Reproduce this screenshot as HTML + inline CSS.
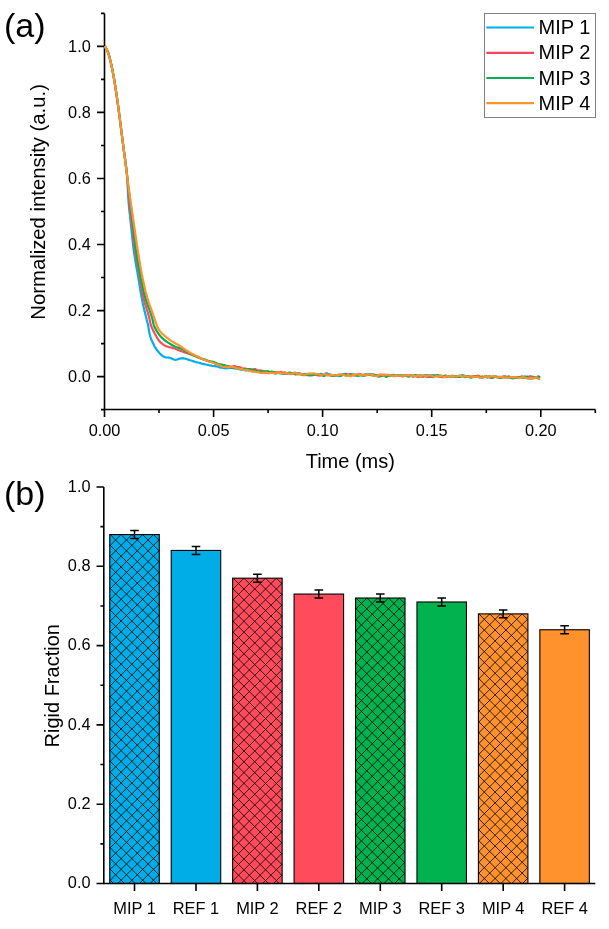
<!DOCTYPE html>
<html><head><meta charset="utf-8"><style>
html,body{margin:0;padding:0;background:#fff;width:609px;height:929px;overflow:hidden}
svg{display:block;will-change:transform}
text{font-family:"Liberation Sans",sans-serif;fill:#000}
</style></head><body>
<svg width="609" height="929" viewBox="0 0 609 929">
<g stroke="#000" stroke-width="1.6" fill="none">
<path d="M104.5,13.4 V409.5 H595.3"/>
<path d="M97,376.6H104.5 M97,310.6H104.5 M97,244.5H104.5 M97,178.5H104.5 M97,112.4H104.5 M97,46.4H104.5 M101,409.6H104.5 M101,343.6H104.5 M101,277.5H104.5 M101,211.5H104.5 M101,145.5H104.5 M101,79.4H104.5 M101,13.4H104.5 M104.5,409.5V417 M213.6,409.5V417 M322.6,409.5V417 M431.7,409.5V417 M540.8,409.5V417 M159.0,409.5V413 M268.1,409.5V413 M377.2,409.5V413 M486.3,409.5V413 M595.3,409.5V413"/>
</g>
<polyline points="104.6,46.3 105.2,47.1 105.7,47.8 106.2,48.7 106.7,49.5 107.1,50.4 107.5,51.2 107.9,52.1 108.2,53.0 108.5,53.9 108.8,54.8 109.1,55.8 109.3,56.7 109.6,57.6 109.8,58.5 110.1,59.5 110.3,60.4 110.5,61.3 110.7,62.2 110.9,63.2 111.2,64.1 111.4,65.0 111.6,66.0 111.8,66.9 112.0,67.9 112.2,68.8 112.3,69.7 112.5,70.7 112.7,71.6 112.9,72.5 113.1,73.5 113.2,74.4 113.4,75.4 113.6,76.3 113.8,77.3 113.9,78.2 114.1,79.1 114.2,80.1 114.4,81.0 114.6,82.0 114.7,82.9 114.9,83.9 115.0,84.8 115.2,85.7 115.3,86.7 115.5,87.6 115.6,88.6 115.8,89.5 115.9,90.5 116.1,91.4 116.2,92.4 116.3,93.3 116.5,94.3 116.6,95.2 116.8,96.2 116.9,97.1 117.0,98.0 117.2,99.0 117.3,99.9 117.4,100.9 117.6,101.8 117.7,102.8 117.8,103.7 118.0,104.7 118.1,105.6 118.2,106.6 118.3,107.5 118.5,108.5 118.6,109.4 118.7,110.4 118.8,111.3 119.0,112.3 119.1,113.2 119.2,114.2 119.3,115.1 119.5,116.1 119.6,117.0 119.7,118.0 119.8,118.9 120.0,119.9 120.1,120.8 120.2,121.8 120.3,122.7 120.4,123.7 120.6,124.6 120.7,125.6 120.8,126.5 120.9,127.5 121.0,128.4 121.1,129.4 121.3,130.3 121.4,131.3 121.5,132.2 121.6,133.2 121.7,134.1 121.8,135.1 122.0,136.0 122.1,136.9 122.2,137.9 122.3,138.8 122.4,139.8 122.6,140.7 122.7,141.7 122.8,142.6 122.9,143.6 123.1,144.5 123.2,145.5 123.3,146.4 123.4,147.4 123.6,148.3 123.7,149.3 123.8,150.2 124.0,151.2 124.1,152.1 124.2,153.1 124.4,154.0 124.5,155.0 124.6,155.9 124.8,156.9 124.9,157.8 125.1,158.8 125.2,159.7 125.3,160.7 125.4,161.6 125.6,162.6 125.7,163.5 125.8,164.5 126.0,165.4 126.1,166.4 126.2,167.3 126.3,168.3 126.4,169.2 126.5,170.2 126.6,171.1 126.7,172.1 126.8,173.0 126.9,174.0 127.0,174.9 127.1,175.9 127.1,176.8 127.2,177.8 127.3,178.7 127.3,179.7 127.4,180.6 127.5,181.6 127.5,182.5 127.6,183.5 127.6,184.5 127.6,185.4 127.7,186.4 127.7,187.3 127.8,188.3 127.8,189.2 127.9,190.2 127.9,191.1 127.9,192.1 128.0,193.1 128.0,194.0 128.1,195.0 128.1,195.9 128.2,196.9 128.3,197.8 128.3,198.8 128.4,199.7 128.5,200.7 128.5,201.7 128.6,202.6 128.7,203.6 128.8,204.5 128.9,205.5 128.9,206.4 129.0,207.4 129.1,208.3 129.2,209.3 129.3,210.2 129.4,211.2 129.5,212.1 129.7,213.1 129.8,214.0 129.9,215.0 130.0,215.9 130.1,216.9 130.2,217.8 130.3,218.8 130.4,219.7 130.5,220.7 130.6,221.6 130.7,222.6 130.8,223.5 130.9,224.5 131.0,225.4 131.1,226.4 131.2,227.3 131.3,228.3 131.4,229.3 131.5,230.2 131.6,231.2 131.7,232.1 131.8,233.1 131.9,234.0 132.0,235.0 132.1,235.9 132.2,236.9 132.3,237.8 132.4,238.8 132.5,239.7 132.6,240.7 132.7,241.6 132.8,242.6 132.9,243.5 133.0,244.5 133.1,245.4 133.2,246.4 133.4,247.3 133.5,248.3 133.6,249.2 133.7,250.2 133.9,251.1 134.0,252.1 134.1,253.0 134.3,254.0 134.4,254.9 134.6,255.9 134.7,256.8 134.9,257.7 135.0,258.7 135.2,259.6 135.3,260.6 135.5,261.5 135.6,262.5 135.8,263.4 136.0,264.3 136.1,265.3 136.3,266.2 136.5,267.2 136.6,268.1 136.8,269.1 137.0,270.0 137.1,270.9 137.3,271.9 137.5,272.8 137.6,273.8 137.8,274.7 138.0,275.7 138.1,276.6 138.3,277.5 138.4,278.5 138.6,279.4 138.8,280.4 138.9,281.3 139.1,282.3 139.2,283.2 139.4,284.2 139.5,285.1 139.7,286.1 139.8,287.0 140.0,287.9 140.1,288.9 140.3,289.8 140.4,290.8 140.6,291.7 140.8,292.7 140.9,293.6 141.1,294.5 141.3,295.5 141.4,296.4 141.6,297.4 141.8,298.3 142.0,299.3 142.1,300.2 142.3,301.1 142.5,302.1 142.7,303.0 142.9,303.9 143.1,304.9 143.3,305.8 143.5,306.7 143.8,307.7 144.0,308.6 144.2,309.5 144.4,310.5 144.6,311.4 144.9,312.3 145.1,313.3 145.3,314.2 145.6,315.1 145.8,316.0 146.0,317.0 146.3,317.9 146.5,318.8 146.7,319.7 147.0,320.7 147.2,321.6 147.4,322.5 147.7,323.5 147.9,324.4 148.1,325.3 148.3,326.3 148.4,327.2 148.6,328.2 148.8,329.1 148.9,330.0 149.1,331.0 149.3,331.9 149.4,332.9 149.6,333.8 149.8,334.7 150.1,335.7 150.3,336.6 150.6,337.5 150.9,338.4 151.2,339.3 151.6,340.2 152.0,341.1 152.4,341.9 152.8,342.8 153.2,343.7 153.7,344.5 154.1,345.4 154.5,346.2 155.0,347.1 155.5,347.9 156.0,348.7 156.5,349.5 157.1,350.2 157.7,351.0 158.3,351.7 159.0,352.4 159.6,353.1 160.3,353.9 161.0,354.6 161.7,355.3 162.5,355.9 163.3,356.4 164.1,356.9 165.0,357.2 165.9,357.4 166.8,357.5 167.8,357.5 168.8,357.6 169.7,357.8 170.6,358.1 171.6,358.5 172.5,358.9 173.4,359.3 174.3,359.6 175.1,359.8 176.0,359.8 177.0,359.5 177.9,359.2 178.8,358.9 179.7,358.6 180.7,358.4 181.6,358.3 182.6,358.2 183.5,358.3 184.4,358.5 185.4,358.7 186.3,359.0 187.3,359.3 188.2,359.6 189.2,359.9 190.0,360.2 191.0,360.5 192.0,360.8 193.0,361.1 194.0,361.4 195.0,361.8 196.0,362.1 197.0,362.3 198.0,362.5 199.0,362.8 200.0,363.1 201.0,363.4 202.0,363.7 203.0,363.9 204.0,364.1 205.0,364.4 206.0,364.5 207.0,364.7 208.0,365.0 209.0,365.2 210.0,365.3 211.0,365.5 212.0,365.8 213.0,366.0 214.0,366.0 215.0,366.1 216.0,366.3 217.0,366.4 218.0,366.7 219.0,367.1 220.0,367.6 221.0,367.6 222.0,367.6 223.0,367.8 224.0,368.1 225.0,368.2 226.0,368.3 227.0,368.2 228.0,368.2 229.0,368.1 230.0,367.9 231.0,367.9 232.0,368.0 233.0,368.2 234.0,368.4 235.0,368.5 236.0,368.6 237.0,368.7 238.0,368.8 239.0,369.0 240.0,369.4 241.0,369.4 242.0,369.4 243.0,369.5 244.0,369.9 245.0,370.3 246.0,370.2 247.0,370.3 248.0,370.2 249.0,370.3 250.0,370.5 251.0,370.9 252.0,371.3 253.0,371.3 254.0,371.3 255.0,371.2 256.0,371.2 257.0,371.2 258.0,371.3 259.0,371.3 260.0,371.4 261.0,371.4 262.0,371.2 263.0,371.1 264.0,371.5 265.0,372.1 266.0,372.5 267.0,372.9 268.0,372.8 269.0,372.5 270.0,372.6 271.0,372.5 272.0,372.4 273.0,372.8 274.0,373.2 275.0,373.6 276.0,373.5 277.0,373.0 278.0,372.9 279.0,373.2 280.0,373.3 281.0,373.2 282.0,373.5 283.0,373.9 284.0,373.9 285.0,373.5 286.0,373.3 287.0,373.3 288.0,373.1 289.0,373.4 290.0,374.0 291.0,374.1 292.0,373.9 293.0,373.9 294.0,373.9 295.0,373.5 296.0,373.4 297.0,373.9 298.0,374.0 299.0,373.9 300.0,374.1 301.0,374.1 302.0,374.3 303.0,374.6 304.0,374.2 305.0,373.8 306.0,373.9 307.0,374.3 308.0,374.6 309.0,375.0 310.0,375.3 311.0,375.3 312.0,375.3 313.0,375.0 314.0,374.2 315.0,374.0 316.0,373.9 317.0,374.2 318.0,374.2 319.0,374.3 320.0,374.2 321.0,373.8 322.0,374.0 323.0,374.4 324.0,374.4 325.0,373.9 326.0,373.3 327.0,373.4 328.0,374.2 329.0,374.5 330.0,374.4 331.0,374.8 332.0,375.4 333.0,375.6 334.0,375.9 335.0,375.9 336.0,375.5 337.0,375.5 338.0,376.0 339.0,376.1 340.0,376.0 341.0,375.6 342.0,375.2 343.0,374.5 344.0,373.9 345.0,374.0 346.0,373.9 347.0,374.0 348.0,374.4 349.0,374.8 350.0,374.7 351.0,374.7 352.0,374.6 353.0,374.8 354.0,374.3 355.0,374.7 356.0,375.5 357.0,375.6 358.0,375.2 359.0,374.9 360.0,374.7 361.0,374.3 362.0,374.7 363.0,375.2 364.0,374.9 365.0,374.3 366.0,374.6 367.0,374.6 368.0,374.3 369.0,374.2 370.0,374.1 371.0,374.3 372.0,374.6 373.0,374.3 374.0,374.5 375.0,375.1 376.0,375.6 377.0,375.6 378.0,375.4 379.0,375.2 380.0,375.4 381.0,375.6 382.0,375.4 383.0,375.6 384.0,375.8 385.0,376.0 386.0,376.2 387.0,376.0 388.0,375.5 389.0,375.8 390.0,375.5 391.0,375.2 392.0,375.6 393.0,376.1 394.0,376.2 395.0,375.9 396.0,376.0 397.0,375.7 398.0,375.5 399.0,375.3 400.0,375.5 401.0,375.8 402.0,376.1 403.0,376.1 404.0,375.9 405.0,375.7 406.0,375.7 407.0,375.5 408.0,375.1 409.0,375.0 410.0,375.4 411.0,375.6 412.0,376.0 413.0,376.4 414.0,376.4 415.0,375.9 416.0,375.9 417.0,375.9 418.0,376.1 419.0,376.0 420.0,376.1 421.0,376.3 422.0,376.4 423.0,376.1 424.0,375.2 425.0,375.0 426.0,375.0 427.0,375.2 428.0,375.5 429.0,375.4 430.0,375.3 431.0,375.4 432.0,375.1 433.0,375.0 434.0,375.1 435.0,375.7 436.0,375.9 437.0,376.1 438.0,376.4 439.0,376.6 440.0,376.5 441.0,376.9 442.0,377.2 443.0,376.6 444.0,375.8 445.0,375.7 446.0,376.3 447.0,376.5 448.0,376.0 449.0,376.0 450.0,376.3 451.0,376.2 452.0,375.7 453.0,375.9 454.0,376.0 455.0,376.1 456.0,376.6 457.0,376.8 458.0,376.1 459.0,375.7 460.0,375.8 461.0,375.5 462.0,375.3 463.0,375.3 464.0,375.6 465.0,376.1 466.0,376.2 467.0,376.3 468.0,376.4 469.0,376.4 470.0,376.8 471.0,377.3 472.0,377.1 473.0,376.7 474.0,376.8 475.0,376.9 476.0,376.8 477.0,376.6 478.0,376.6 479.0,376.9 480.0,377.6 481.0,377.7 482.0,377.6 483.0,377.4 484.0,377.3 485.0,376.8 486.0,376.9 487.0,377.6 488.0,377.5 489.0,376.7 490.0,376.3 491.0,377.2 492.0,377.7 493.0,377.5 494.0,377.4 495.0,377.0 496.0,377.0 497.0,377.2 498.0,377.5 499.0,377.7 500.0,377.9 501.0,377.5 502.0,377.2 503.0,377.5 504.0,377.6 505.0,377.5 506.0,377.5 507.0,377.4 508.0,376.8 509.0,376.3 510.0,377.1 511.0,377.2 512.0,377.1 513.0,377.1 514.0,377.0 515.0,377.0 516.0,377.4 517.0,377.4 518.0,377.4 519.0,377.0 520.0,376.9 521.0,377.2 522.0,377.7 523.0,377.7 524.0,376.7 525.0,376.4 526.0,376.8 527.0,377.3 528.0,377.8 529.0,377.4 530.0,376.8 531.0,376.6 532.0,376.7 533.0,376.7 534.0,377.6 535.0,378.0 536.0,377.5 537.0,377.7 538.0,378.0 539.0,377.8 540.0,377.7" fill="none" stroke="#00AEEA" stroke-width="2.2" stroke-linejoin="round"/><polyline points="104.6,46.3 105.2,47.0 105.7,47.8 106.2,48.6 106.7,49.4 107.1,50.3 107.5,51.1 107.8,52.0 108.2,52.9 108.5,53.8 108.8,54.6 109.0,55.5 109.3,56.4 109.5,57.3 109.8,58.3 110.0,59.2 110.2,60.1 110.4,61.0 110.7,61.9 110.9,62.8 111.1,63.7 111.3,64.6 111.5,65.6 111.7,66.5 111.9,67.4 112.1,68.3 112.2,69.2 112.4,70.1 112.6,71.1 112.8,72.0 113.0,72.9 113.1,73.8 113.3,74.7 113.5,75.7 113.6,76.6 113.8,77.5 114.0,78.4 114.1,79.4 114.3,80.3 114.4,81.2 114.6,82.1 114.7,83.1 114.9,84.0 115.0,84.9 115.2,85.8 115.3,86.8 115.5,87.7 115.6,88.6 115.8,89.5 115.9,90.5 116.0,91.4 116.2,92.3 116.3,93.2 116.5,94.2 116.6,95.1 116.7,96.0 116.9,97.0 117.0,97.9 117.1,98.8 117.3,99.7 117.4,100.7 117.5,101.6 117.7,102.5 117.8,103.5 117.9,104.4 118.0,105.3 118.2,106.2 118.3,107.2 118.4,108.1 118.5,109.0 118.7,110.0 118.8,110.9 118.9,111.8 119.0,112.7 119.1,113.7 119.3,114.6 119.4,115.5 119.5,116.5 119.6,117.4 119.7,118.3 119.9,119.2 120.0,120.2 120.1,121.1 120.2,122.0 120.3,123.0 120.5,123.9 120.6,124.8 120.7,125.8 120.8,126.7 120.9,127.6 121.0,128.5 121.2,129.5 121.3,130.4 121.4,131.3 121.5,132.3 121.6,133.2 121.7,134.1 121.9,135.1 122.0,136.0 122.1,136.9 122.2,137.8 122.3,138.8 122.5,139.7 122.6,140.6 122.7,141.6 122.8,142.5 122.9,143.4 123.1,144.3 123.2,145.3 123.3,146.2 123.4,147.1 123.5,148.1 123.7,149.0 123.8,149.9 123.9,150.9 124.0,151.8 124.2,152.7 124.3,153.6 124.4,154.6 124.5,155.5 124.7,156.4 124.8,157.4 124.9,158.3 125.1,159.2 125.2,160.1 125.3,161.1 125.4,162.0 125.6,162.9 125.7,163.9 125.8,164.8 125.9,165.7 126.0,166.6 126.1,167.6 126.3,168.5 126.4,169.4 126.5,170.4 126.6,171.3 126.7,172.2 126.8,173.2 126.9,174.1 127.0,175.0 127.1,176.0 127.2,176.9 127.3,177.8 127.4,178.7 127.5,179.7 127.5,180.6 127.6,181.5 127.7,182.5 127.8,183.4 127.9,184.4 127.9,185.3 128.0,186.2 128.1,187.2 128.2,188.1 128.3,189.0 128.3,190.0 128.4,190.9 128.5,191.8 128.6,192.8 128.6,193.7 128.7,194.6 128.8,195.6 128.9,196.5 129.0,197.4 129.0,198.4 129.1,199.3 129.2,200.2 129.3,201.2 129.4,202.1 129.5,203.0 129.6,204.0 129.7,204.9 129.8,205.8 129.9,206.7 130.0,207.7 130.1,208.6 130.2,209.5 130.3,210.5 130.4,211.4 130.5,212.3 130.6,213.3 130.7,214.2 130.9,215.1 131.0,216.1 131.1,217.0 131.2,217.9 131.3,218.9 131.4,219.8 131.5,220.7 131.6,221.6 131.7,222.6 131.8,223.5 131.9,224.4 132.0,225.4 132.1,226.3 132.2,227.2 132.3,228.2 132.4,229.1 132.6,230.0 132.7,231.0 132.8,231.9 132.9,232.8 133.0,233.8 133.1,234.7 133.2,235.6 133.3,236.6 133.4,237.5 133.5,238.4 133.6,239.3 133.7,240.3 133.8,241.2 133.9,242.1 134.0,243.1 134.2,244.0 134.3,244.9 134.4,245.9 134.5,246.8 134.7,247.7 134.8,248.6 134.9,249.6 135.1,250.5 135.2,251.4 135.4,252.3 135.5,253.3 135.7,254.2 135.8,255.1 136.0,256.0 136.2,257.0 136.3,257.9 136.5,258.8 136.7,259.7 136.8,260.6 137.0,261.6 137.2,262.5 137.4,263.4 137.5,264.3 137.7,265.2 137.9,266.2 138.1,267.1 138.2,268.0 138.4,268.9 138.6,269.8 138.8,270.8 138.9,271.7 139.1,272.6 139.3,273.5 139.4,274.5 139.6,275.4 139.8,276.3 139.9,277.2 140.1,278.2 140.2,279.1 140.4,280.0 140.5,280.9 140.7,281.9 140.8,282.8 141.0,283.7 141.1,284.6 141.3,285.6 141.4,286.5 141.6,287.4 141.7,288.4 141.9,289.3 142.0,290.2 142.2,291.1 142.3,292.1 142.5,293.0 142.7,293.9 142.8,294.8 143.0,295.7 143.2,296.6 143.4,297.6 143.6,298.5 143.8,299.4 144.1,300.3 144.3,301.2 144.6,302.1 144.8,303.0 145.1,303.9 145.4,304.8 145.6,305.7 145.9,306.6 146.2,307.5 146.5,308.4 146.8,309.3 147.0,310.2 147.3,311.1 147.6,311.9 147.9,312.8 148.1,313.7 148.4,314.6 148.6,315.6 148.9,316.5 149.1,317.4 149.3,318.3 149.5,319.2 149.7,320.1 149.9,321.0 150.1,322.0 150.3,322.9 150.5,323.8 150.7,324.7 151.0,325.6 151.3,326.5 151.7,327.3 152.1,328.2 152.5,329.0 152.9,329.9 153.3,330.7 153.7,331.6 154.2,332.4 154.6,333.2 155.0,334.0 155.5,334.9 155.9,335.7 156.4,336.5 156.8,337.3 157.3,338.2 157.8,338.9 158.3,339.7 158.9,340.5 159.5,341.2 160.1,341.9 160.8,342.6 161.5,343.2 162.2,343.8 163.0,344.4 163.7,344.9 164.6,345.4 165.4,345.8 166.2,346.2 167.1,346.5 168.0,346.8 168.9,347.1 169.8,347.3 170.7,347.5 171.7,347.7 172.6,347.9 173.5,348.2 174.4,348.5 175.2,348.8 176.1,349.2 177.0,349.5 177.8,349.9 178.7,350.2 179.6,350.6 180.5,350.9 181.4,351.2 182.2,351.5 183.1,351.8 184.0,352.1 184.9,352.4 185.8,352.7 186.7,353.0 187.6,353.3 188.4,353.7 189.3,354.0 190.0,354.2 191.0,354.5 192.0,354.9 193.0,355.2 194.0,355.6 195.0,355.8 196.0,356.1 197.0,356.5 198.0,356.8 199.0,357.3 200.0,357.8 201.0,358.2 202.0,358.7 203.0,359.2 204.0,359.6 205.0,359.9 206.0,360.3 207.0,360.6 208.0,360.8 209.0,361.2 210.0,361.5 211.0,361.8 212.0,362.1 213.0,362.5 214.0,363.0 215.0,363.4 216.0,363.7 217.0,364.0 218.0,364.4 219.0,364.8 220.0,365.2 221.0,365.3 222.0,365.4 223.0,365.5 224.0,365.7 225.0,366.0 226.0,366.1 227.0,366.0 228.0,366.2 229.0,366.3 230.0,366.6 231.0,366.6 232.0,366.5 233.0,366.5 234.0,366.0 235.0,366.2 236.0,366.7 237.0,366.9 238.0,367.0 239.0,367.1 240.0,367.3 241.0,367.8 242.0,368.4 243.0,368.7 244.0,368.6 245.0,368.7 246.0,368.7 247.0,369.0 248.0,369.2 249.0,369.1 250.0,369.2 251.0,369.3 252.0,369.6 253.0,369.4 254.0,369.1 255.0,369.0 256.0,369.5 257.0,370.1 258.0,370.6 259.0,370.5 260.0,370.4 261.0,370.6 262.0,370.9 263.0,371.2 264.0,371.3 265.0,371.3 266.0,371.4 267.0,371.6 268.0,371.8 269.0,371.8 270.0,372.1 271.0,372.3 272.0,372.3 273.0,372.3 274.0,372.1 275.0,372.0 276.0,372.1 277.0,372.2 278.0,372.3 279.0,372.4 280.0,372.1 281.0,371.9 282.0,372.3 283.0,372.6 284.0,372.5 285.0,372.4 286.0,373.0 287.0,373.4 288.0,373.3 289.0,373.4 290.0,373.6 291.0,373.5 292.0,373.0 293.0,373.1 294.0,373.0 295.0,372.8 296.0,373.1 297.0,373.3 298.0,373.6 299.0,373.6 300.0,373.4 301.0,373.8 302.0,374.1 303.0,374.1 304.0,374.5 305.0,374.9 306.0,375.2 307.0,374.9 308.0,374.4 309.0,373.9 310.0,373.8 311.0,374.6 312.0,375.1 313.0,375.1 314.0,375.0 315.0,375.0 316.0,374.9 317.0,375.2 318.0,375.3 319.0,375.4 320.0,375.7 321.0,375.1 322.0,374.5 323.0,374.5 324.0,374.8 325.0,374.6 326.0,374.4 327.0,374.4 328.0,374.6 329.0,375.0 330.0,375.2 331.0,375.8 332.0,375.6 333.0,375.4 334.0,375.1 335.0,375.1 336.0,375.0 337.0,375.0 338.0,375.0 339.0,374.5 340.0,374.5 341.0,374.6 342.0,374.8 343.0,374.7 344.0,374.5 345.0,374.6 346.0,374.5 347.0,374.5 348.0,374.3 349.0,374.1 350.0,374.0 351.0,374.2 352.0,374.8 353.0,375.3 354.0,375.5 355.0,375.4 356.0,374.9 357.0,374.9 358.0,374.6 359.0,374.0 360.0,374.4 361.0,375.0 362.0,375.3 363.0,375.3 364.0,375.1 365.0,374.8 366.0,374.9 367.0,374.6 368.0,374.8 369.0,374.9 370.0,375.0 371.0,375.0 372.0,375.1 373.0,375.4 374.0,374.9 375.0,374.8 376.0,375.5 377.0,376.0 378.0,376.6 379.0,376.5 380.0,376.3 381.0,376.2 382.0,375.7 383.0,374.8 384.0,374.6 385.0,375.1 386.0,375.9 387.0,375.7 388.0,375.7 389.0,376.1 390.0,375.9 391.0,375.4 392.0,375.0 393.0,375.0 394.0,375.3 395.0,375.7 396.0,375.9 397.0,375.8 398.0,375.4 399.0,375.4 400.0,375.4 401.0,375.4 402.0,376.0 403.0,376.4 404.0,376.0 405.0,375.6 406.0,376.0 407.0,376.2 408.0,375.6 409.0,375.3 410.0,375.4 411.0,375.4 412.0,375.9 413.0,376.4 414.0,376.2 415.0,376.0 416.0,376.3 417.0,376.7 418.0,377.1 419.0,376.9 420.0,376.4 421.0,376.1 422.0,376.6 423.0,376.8 424.0,376.3 425.0,376.4 426.0,376.6 427.0,376.9 428.0,377.1 429.0,376.8 430.0,376.8 431.0,376.9 432.0,377.0 433.0,377.2 434.0,376.8 435.0,376.0 436.0,375.8 437.0,375.8 438.0,376.4 439.0,376.6 440.0,376.7 441.0,377.0 442.0,376.6 443.0,376.5 444.0,376.3 445.0,375.9 446.0,375.5 447.0,376.0 448.0,376.4 449.0,376.3 450.0,376.5 451.0,376.3 452.0,376.2 453.0,376.1 454.0,376.2 455.0,376.4 456.0,376.7 457.0,376.5 458.0,376.6 459.0,376.8 460.0,376.7 461.0,376.1 462.0,375.9 463.0,376.5 464.0,377.0 465.0,377.2 466.0,376.9 467.0,376.6 468.0,376.6 469.0,376.7 470.0,376.5 471.0,376.6 472.0,376.5 473.0,376.2 474.0,376.2 475.0,377.0 476.0,376.8 477.0,376.0 478.0,375.6 479.0,375.8 480.0,376.5 481.0,376.9 482.0,376.8 483.0,377.1 484.0,377.1 485.0,376.6 486.0,376.4 487.0,376.5 488.0,376.7 489.0,377.1 490.0,377.7 491.0,377.9 492.0,377.4 493.0,376.9 494.0,376.6 495.0,376.4 496.0,376.8 497.0,376.9 498.0,377.0 499.0,376.8 500.0,376.9 501.0,377.4 502.0,377.2 503.0,376.9 504.0,376.6 505.0,376.2 506.0,376.5 507.0,376.9 508.0,376.8 509.0,376.8 510.0,377.5 511.0,378.0 512.0,378.3 513.0,378.0 514.0,377.2 515.0,377.5 516.0,377.6 517.0,377.2 518.0,377.5 519.0,377.6 520.0,377.2 521.0,376.8 522.0,376.3 523.0,376.5 524.0,377.2 525.0,377.6 526.0,377.2 527.0,377.3 528.0,377.4 529.0,376.9 530.0,376.2 531.0,376.7 532.0,377.5 533.0,377.4 534.0,377.2 535.0,377.6 536.0,377.8 537.0,377.5 538.0,377.2 539.0,377.5 540.0,377.7" fill="none" stroke="#FF4A5C" stroke-width="2.2" stroke-linejoin="round"/><polyline points="104.6,46.3 105.2,47.0 105.7,47.8 106.2,48.6 106.6,49.4 107.1,50.2 107.4,51.1 107.8,51.9 108.1,52.8 108.4,53.7 108.7,54.6 109.0,55.5 109.3,56.4 109.5,57.3 109.7,58.2 110.0,59.1 110.2,60.0 110.4,60.9 110.6,61.8 110.8,62.7 111.0,63.6 111.2,64.5 111.4,65.4 111.6,66.3 111.8,67.2 112.0,68.1 112.2,69.1 112.4,70.0 112.6,70.9 112.8,71.8 112.9,72.7 113.1,73.6 113.3,74.5 113.4,75.4 113.6,76.4 113.8,77.3 113.9,78.2 114.1,79.1 114.2,80.0 114.4,80.9 114.5,81.9 114.7,82.8 114.8,83.7 115.0,84.6 115.1,85.5 115.3,86.5 115.4,87.4 115.6,88.3 115.7,89.2 115.9,90.1 116.0,91.1 116.1,92.0 116.3,92.9 116.4,93.8 116.5,94.7 116.7,95.7 116.8,96.6 116.9,97.5 117.1,98.4 117.2,99.3 117.3,100.3 117.5,101.2 117.6,102.1 117.7,103.0 117.8,103.9 118.0,104.9 118.1,105.8 118.2,106.7 118.3,107.6 118.5,108.6 118.6,109.5 118.7,110.4 118.8,111.3 119.0,112.2 119.1,113.2 119.2,114.1 119.3,115.0 119.4,115.9 119.6,116.9 119.7,117.8 119.8,118.7 119.9,119.6 120.0,120.5 120.1,121.5 120.3,122.4 120.4,123.3 120.5,124.2 120.6,125.2 120.7,126.1 120.9,127.0 121.0,127.9 121.1,128.9 121.2,129.8 121.3,130.7 121.4,131.6 121.6,132.5 121.7,133.5 121.8,134.4 121.9,135.3 122.0,136.2 122.2,137.2 122.3,138.1 122.4,139.0 122.5,139.9 122.6,140.8 122.7,141.8 122.9,142.7 123.0,143.6 123.1,144.5 123.2,145.5 123.3,146.4 123.5,147.3 123.6,148.2 123.7,149.2 123.8,150.1 123.9,151.0 124.0,151.9 124.2,152.8 124.3,153.8 124.4,154.7 124.5,155.6 124.6,156.5 124.8,157.5 124.9,158.4 125.0,159.3 125.1,160.2 125.2,161.1 125.4,162.1 125.5,163.0 125.6,163.9 125.7,164.8 125.8,165.8 126.0,166.7 126.1,167.6 126.2,168.5 126.3,169.4 126.4,170.4 126.5,171.3 126.7,172.2 126.8,173.1 126.9,174.1 127.0,175.0 127.1,175.9 127.2,176.8 127.3,177.8 127.5,178.7 127.6,179.6 127.7,180.5 127.8,181.5 127.9,182.4 128.0,183.3 128.1,184.2 128.2,185.1 128.3,186.1 128.4,187.0 128.6,187.9 128.7,188.8 128.8,189.8 128.9,190.7 129.0,191.6 129.1,192.5 129.2,193.5 129.3,194.4 129.4,195.3 129.5,196.2 129.7,197.2 129.8,198.1 129.9,199.0 130.0,199.9 130.1,200.8 130.2,201.8 130.3,202.7 130.4,203.6 130.6,204.5 130.7,205.5 130.8,206.4 130.9,207.3 131.0,208.2 131.1,209.2 131.2,210.1 131.3,211.0 131.5,211.9 131.6,212.9 131.7,213.8 131.8,214.7 131.9,215.6 132.0,216.5 132.1,217.5 132.2,218.4 132.3,219.3 132.4,220.2 132.6,221.2 132.7,222.1 132.8,223.0 132.9,223.9 133.0,224.9 133.1,225.8 133.2,226.7 133.3,227.6 133.4,228.6 133.5,229.5 133.6,230.4 133.7,231.3 133.8,232.3 133.9,233.2 134.0,234.1 134.1,235.0 134.2,236.0 134.3,236.9 134.4,237.8 134.6,238.7 134.7,239.7 134.8,240.6 134.9,241.5 135.0,242.4 135.1,243.3 135.2,244.3 135.3,245.2 135.5,246.1 135.6,247.0 135.7,248.0 135.8,248.9 136.0,249.8 136.1,250.7 136.2,251.6 136.4,252.6 136.5,253.5 136.7,254.4 136.8,255.3 137.0,256.2 137.1,257.2 137.3,258.1 137.4,259.0 137.6,259.9 137.7,260.8 137.9,261.7 138.0,262.7 138.2,263.6 138.4,264.5 138.5,265.4 138.7,266.3 138.9,267.2 139.0,268.1 139.2,269.1 139.4,270.0 139.5,270.9 139.7,271.8 139.9,272.7 140.1,273.6 140.2,274.5 140.4,275.5 140.6,276.4 140.8,277.3 141.0,278.2 141.1,279.1 141.3,280.0 141.5,280.9 141.7,281.9 141.8,282.8 142.0,283.7 142.2,284.6 142.4,285.5 142.6,286.4 142.8,287.3 143.0,288.3 143.2,289.2 143.4,290.1 143.6,291.0 143.8,291.9 144.0,292.8 144.2,293.7 144.5,294.6 144.7,295.5 144.9,296.4 145.2,297.3 145.4,298.2 145.7,299.1 146.0,300.0 146.3,300.8 146.6,301.7 146.9,302.6 147.2,303.5 147.5,304.4 147.8,305.2 148.1,306.1 148.4,307.0 148.8,307.9 149.1,308.7 149.4,309.6 149.7,310.5 150.0,311.4 150.3,312.2 150.6,313.1 150.9,314.0 151.2,314.9 151.5,315.8 151.7,316.7 152.0,317.6 152.2,318.5 152.5,319.4 152.7,320.3 152.9,321.2 153.1,322.1 153.3,323.0 153.5,323.9 153.7,324.8 154.0,325.7 154.4,326.6 154.7,327.4 155.2,328.2 155.6,329.1 156.0,329.9 156.5,330.7 157.0,331.5 157.5,332.3 158.1,333.0 158.6,333.8 159.1,334.6 159.7,335.3 160.3,336.0 160.9,336.7 161.6,337.4 162.2,338.0 162.9,338.7 163.6,339.3 164.3,339.9 165.0,340.5 165.8,341.0 166.5,341.6 167.3,342.1 168.1,342.6 168.9,343.1 169.7,343.6 170.5,344.1 171.3,344.6 172.1,345.0 172.9,345.5 173.7,345.9 174.5,346.3 175.4,346.7 176.2,347.1 177.1,347.4 178.0,347.7 178.9,347.9 179.8,348.2 180.7,348.5 181.5,348.9 182.4,349.3 183.2,349.7 184.0,350.1 184.8,350.6 185.6,351.0 186.4,351.5 187.2,352.0 188.1,352.4 188.9,352.9 189.7,353.4 190.0,353.5 191.0,354.0 192.0,354.5 193.0,355.0 194.0,355.5 195.0,356.0 196.0,356.5 197.0,357.0 198.0,357.5 199.0,357.9 200.0,358.2 201.0,358.6 202.0,358.9 203.0,359.1 204.0,359.3 205.0,359.6 206.0,360.0 207.0,360.4 208.0,360.8 209.0,361.1 210.0,361.4 211.0,361.5 212.0,361.6 213.0,361.8 214.0,362.1 215.0,362.5 216.0,363.0 217.0,363.5 218.0,363.9 219.0,364.1 220.0,364.3 221.0,364.5 222.0,364.7 223.0,364.9 224.0,365.0 225.0,365.3 226.0,365.7 227.0,366.1 228.0,366.4 229.0,366.8 230.0,367.3 231.0,367.3 232.0,367.3 233.0,367.4 234.0,367.4 235.0,367.5 236.0,367.8 237.0,368.2 238.0,368.4 239.0,368.4 240.0,368.8 241.0,369.3 242.0,369.3 243.0,369.0 244.0,368.9 245.0,369.0 246.0,369.4 247.0,369.5 248.0,369.3 249.0,369.2 250.0,369.4 251.0,369.5 252.0,369.9 253.0,370.0 254.0,370.1 255.0,370.4 256.0,370.8 257.0,371.1 258.0,371.3 259.0,371.3 260.0,371.4 261.0,371.7 262.0,371.8 263.0,371.7 264.0,371.6 265.0,371.6 266.0,371.5 267.0,371.3 268.0,371.3 269.0,371.7 270.0,372.0 271.0,371.7 272.0,371.6 273.0,372.0 274.0,372.4 275.0,372.5 276.0,372.6 277.0,372.9 278.0,372.9 279.0,373.0 280.0,373.0 281.0,373.0 282.0,373.3 283.0,373.6 284.0,373.5 285.0,373.5 286.0,373.7 287.0,373.5 288.0,373.1 289.0,372.7 290.0,372.6 291.0,372.9 292.0,373.0 293.0,373.2 294.0,373.8 295.0,374.3 296.0,374.5 297.0,374.2 298.0,373.9 299.0,373.7 300.0,374.0 301.0,374.3 302.0,374.8 303.0,374.9 304.0,375.1 305.0,374.9 306.0,374.7 307.0,375.0 308.0,375.2 309.0,375.3 310.0,375.1 311.0,374.7 312.0,374.5 313.0,374.6 314.0,374.8 315.0,374.9 316.0,374.7 317.0,374.6 318.0,374.7 319.0,374.6 320.0,374.8 321.0,374.9 322.0,375.2 323.0,375.8 324.0,375.9 325.0,375.4 326.0,375.0 327.0,375.1 328.0,375.0 329.0,374.9 330.0,374.9 331.0,375.2 332.0,375.9 333.0,375.9 334.0,375.7 335.0,375.7 336.0,375.4 337.0,375.0 338.0,374.9 339.0,375.2 340.0,375.5 341.0,375.6 342.0,375.3 343.0,374.9 344.0,374.3 345.0,374.2 346.0,374.8 347.0,375.4 348.0,375.6 349.0,375.0 350.0,374.6 351.0,374.7 352.0,374.8 353.0,374.7 354.0,375.0 355.0,375.2 356.0,375.1 357.0,375.3 358.0,375.8 359.0,375.6 360.0,375.4 361.0,375.3 362.0,375.4 363.0,375.4 364.0,375.7 365.0,375.6 366.0,375.2 367.0,375.1 368.0,375.0 369.0,374.7 370.0,375.0 371.0,375.1 372.0,374.9 373.0,375.3 374.0,375.5 375.0,375.0 376.0,375.2 377.0,375.9 378.0,376.3 379.0,375.9 380.0,375.6 381.0,375.5 382.0,375.6 383.0,375.7 384.0,375.6 385.0,376.2 386.0,376.9 387.0,376.6 388.0,375.9 389.0,375.5 390.0,375.2 391.0,375.2 392.0,375.2 393.0,374.9 394.0,375.0 395.0,375.8 396.0,375.8 397.0,375.4 398.0,375.8 399.0,375.8 400.0,375.5 401.0,375.5 402.0,375.2 403.0,375.5 404.0,375.5 405.0,375.5 406.0,375.3 407.0,375.9 408.0,376.5 409.0,376.6 410.0,376.3 411.0,376.0 412.0,375.6 413.0,375.5 414.0,375.3 415.0,375.0 416.0,375.2 417.0,375.3 418.0,375.5 419.0,375.6 420.0,375.3 421.0,375.3 422.0,375.7 423.0,375.9 424.0,376.0 425.0,376.0 426.0,375.8 427.0,375.8 428.0,375.6 429.0,375.8 430.0,376.2 431.0,376.3 432.0,376.3 433.0,376.4 434.0,376.0 435.0,375.8 436.0,375.5 437.0,374.9 438.0,375.1 439.0,375.7 440.0,375.7 441.0,375.5 442.0,375.9 443.0,376.2 444.0,376.4 445.0,376.6 446.0,376.4 447.0,376.6 448.0,376.6 449.0,376.3 450.0,376.2 451.0,376.6 452.0,376.0 453.0,376.2 454.0,376.7 455.0,377.0 456.0,376.5 457.0,376.3 458.0,376.6 459.0,376.9 460.0,377.0 461.0,376.4 462.0,375.6 463.0,375.9 464.0,376.6 465.0,376.9 466.0,376.9 467.0,376.6 468.0,376.6 469.0,377.0 470.0,377.4 471.0,377.4 472.0,377.2 473.0,377.2 474.0,377.0 475.0,376.6 476.0,376.1 477.0,376.3 478.0,377.0 479.0,377.1 480.0,377.5 481.0,377.3 482.0,376.6 483.0,376.7 484.0,377.0 485.0,376.7 486.0,376.4 487.0,376.9 488.0,376.9 489.0,376.6 490.0,376.7 491.0,377.1 492.0,377.7 493.0,377.3 494.0,376.8 495.0,376.6 496.0,376.4 497.0,377.0 498.0,377.2 499.0,377.4 500.0,377.3 501.0,377.6 502.0,377.4 503.0,376.7 504.0,376.7 505.0,377.0 506.0,377.1 507.0,377.0 508.0,377.3 509.0,377.6 510.0,377.8 511.0,377.7 512.0,377.9 513.0,378.3 514.0,378.1 515.0,377.7 516.0,377.5 517.0,377.7 518.0,377.7 519.0,377.8 520.0,377.4 521.0,377.0 522.0,377.3 523.0,377.2 524.0,377.4 525.0,377.4 526.0,377.2 527.0,376.6 528.0,376.9 529.0,377.8 530.0,378.6 531.0,378.5 532.0,378.2 533.0,378.2 534.0,377.8 535.0,377.5 536.0,377.3 537.0,377.1 538.0,376.4 539.0,376.6 540.0,377.8" fill="none" stroke="#00B14F" stroke-width="2.2" stroke-linejoin="round"/><polyline points="104.6,46.3 105.2,47.0 105.7,47.8 106.2,48.6 106.6,49.4 107.1,50.2 107.4,51.1 107.8,51.9 108.1,52.8 108.4,53.7 108.7,54.5 109.0,55.4 109.2,56.3 109.5,57.2 109.7,58.1 110.0,59.0 110.2,59.9 110.4,60.8 110.6,61.7 110.8,62.6 111.0,63.5 111.2,64.4 111.4,65.3 111.6,66.2 111.8,67.1 112.0,68.0 112.2,68.9 112.4,69.8 112.5,70.7 112.7,71.7 112.9,72.6 113.1,73.5 113.2,74.4 113.4,75.3 113.6,76.2 113.7,77.1 113.9,78.0 114.0,78.9 114.2,79.8 114.4,80.8 114.5,81.7 114.7,82.6 114.8,83.5 115.0,84.4 115.1,85.3 115.3,86.2 115.4,87.2 115.5,88.1 115.7,89.0 115.8,89.9 116.0,90.8 116.1,91.7 116.2,92.6 116.4,93.6 116.5,94.5 116.6,95.4 116.8,96.3 116.9,97.2 117.0,98.1 117.2,99.1 117.3,100.0 117.4,100.9 117.6,101.8 117.7,102.7 117.8,103.6 117.9,104.6 118.1,105.5 118.2,106.4 118.3,107.3 118.4,108.2 118.5,109.1 118.7,110.1 118.8,111.0 118.9,111.9 119.0,112.8 119.1,113.7 119.3,114.6 119.4,115.6 119.5,116.5 119.6,117.4 119.7,118.3 119.9,119.2 120.0,120.2 120.1,121.1 120.2,122.0 120.3,122.9 120.4,123.8 120.6,124.7 120.7,125.7 120.8,126.6 120.9,127.5 121.0,128.4 121.2,129.3 121.3,130.3 121.4,131.2 121.5,132.1 121.6,133.0 121.7,133.9 121.9,134.8 122.0,135.8 122.1,136.7 122.2,137.6 122.3,138.5 122.5,139.4 122.6,140.3 122.7,141.3 122.8,142.2 122.9,143.1 123.0,144.0 123.2,144.9 123.3,145.9 123.4,146.8 123.5,147.7 123.6,148.6 123.7,149.5 123.9,150.4 124.0,151.4 124.1,152.3 124.2,153.2 124.3,154.1 124.4,155.0 124.6,156.0 124.7,156.9 124.8,157.8 124.9,158.7 125.0,159.6 125.1,160.5 125.3,161.5 125.4,162.4 125.5,163.3 125.6,164.2 125.7,165.1 125.8,166.1 126.0,167.0 126.1,167.9 126.2,168.8 126.3,169.7 126.4,170.6 126.6,171.6 126.7,172.5 126.8,173.4 126.9,174.3 127.0,175.2 127.2,176.1 127.3,177.1 127.4,178.0 127.5,178.9 127.6,179.8 127.8,180.7 127.9,181.7 128.0,182.6 128.1,183.5 128.2,184.4 128.4,185.3 128.5,186.2 128.6,187.2 128.7,188.1 128.9,189.0 129.0,189.9 129.1,190.8 129.2,191.7 129.4,192.7 129.5,193.6 129.6,194.5 129.8,195.4 129.9,196.3 130.0,197.2 130.1,198.2 130.3,199.1 130.4,200.0 130.5,200.9 130.7,201.8 130.8,202.7 130.9,203.7 131.0,204.6 131.2,205.5 131.3,206.4 131.4,207.3 131.6,208.2 131.7,209.1 131.8,210.1 132.0,211.0 132.1,211.9 132.2,212.8 132.4,213.7 132.5,214.6 132.6,215.6 132.8,216.5 132.9,217.4 133.0,218.3 133.2,219.2 133.3,220.1 133.4,221.1 133.6,222.0 133.7,222.9 133.8,223.8 134.0,224.7 134.1,225.6 134.2,226.6 134.4,227.5 134.5,228.4 134.6,229.3 134.8,230.2 134.9,231.1 135.0,232.0 135.2,233.0 135.3,233.9 135.4,234.8 135.6,235.7 135.7,236.6 135.8,237.5 136.0,238.5 136.1,239.4 136.2,240.3 136.4,241.2 136.5,242.1 136.6,243.0 136.8,243.9 136.9,244.9 137.1,245.8 137.2,246.7 137.3,247.6 137.5,248.5 137.6,249.4 137.8,250.4 137.9,251.3 138.0,252.2 138.2,253.1 138.3,254.0 138.5,254.9 138.6,255.8 138.8,256.7 138.9,257.7 139.1,258.6 139.2,259.5 139.4,260.4 139.5,261.3 139.7,262.2 139.8,263.1 140.0,264.0 140.2,265.0 140.3,265.9 140.5,266.8 140.6,267.7 140.8,268.6 141.0,269.5 141.1,270.4 141.3,271.3 141.5,272.2 141.6,273.2 141.8,274.1 142.0,275.0 142.2,275.9 142.4,276.8 142.5,277.7 142.7,278.6 142.9,279.5 143.1,280.4 143.3,281.3 143.5,282.2 143.7,283.1 143.9,284.0 144.1,285.0 144.3,285.9 144.5,286.8 144.7,287.7 144.9,288.6 145.1,289.5 145.3,290.4 145.5,291.3 145.8,292.2 146.0,293.1 146.2,293.9 146.5,294.8 146.7,295.7 147.0,296.6 147.2,297.5 147.5,298.4 147.8,299.3 148.1,300.2 148.3,301.0 148.6,301.9 148.9,302.8 149.2,303.7 149.5,304.6 149.8,305.4 150.1,306.3 150.4,307.2 150.7,308.1 151.1,308.9 151.4,309.8 151.7,310.7 152.0,311.5 152.3,312.4 152.6,313.3 153.0,314.1 153.3,315.0 153.6,315.9 153.9,316.8 154.2,317.6 154.5,318.5 154.8,319.4 155.1,320.3 155.4,321.1 155.7,322.0 156.0,322.9 156.3,323.8 156.6,324.6 156.9,325.5 157.2,326.4 157.6,327.2 158.0,328.1 158.4,328.9 158.9,329.7 159.4,330.5 159.9,331.2 160.5,331.9 161.2,332.6 161.8,333.3 162.5,333.9 163.2,334.5 163.9,335.1 164.6,335.8 165.3,336.4 166.0,337.0 166.7,337.6 167.4,338.2 168.1,338.7 168.9,339.3 169.6,339.8 170.4,340.3 171.1,340.9 171.9,341.4 172.7,341.8 173.5,342.3 174.3,342.8 175.1,343.2 175.9,343.7 176.8,344.1 177.6,344.6 178.4,345.0 179.2,345.5 179.9,346.0 180.7,346.5 181.5,347.0 182.2,347.5 183.0,348.1 183.8,348.6 184.5,349.1 185.3,349.7 186.0,350.2 186.8,350.7 187.6,351.2 188.3,351.7 189.1,352.2 189.9,352.7 190.0,352.6 191.0,353.2 192.0,353.7 193.0,354.2 194.0,354.7 195.0,355.3 196.0,355.8 197.0,356.3 198.0,356.8 199.0,357.4 200.0,357.9 201.0,358.3 202.0,358.7 203.0,359.2 204.0,359.7 205.0,360.1 206.0,360.6 207.0,361.0 208.0,361.2 209.0,361.6 210.0,361.8 211.0,362.0 212.0,362.3 213.0,362.7 214.0,363.0 215.0,363.4 216.0,363.9 217.0,364.3 218.0,364.6 219.0,365.1 220.0,365.5 221.0,365.8 222.0,366.2 223.0,366.7 224.0,367.0 225.0,366.7 226.0,366.7 227.0,367.1 228.0,367.2 229.0,367.2 230.0,367.1 231.0,366.9 232.0,366.8 233.0,367.0 234.0,367.1 235.0,367.5 236.0,368.0 237.0,368.3 238.0,368.3 239.0,368.5 240.0,368.8 241.0,369.0 242.0,369.1 243.0,369.6 244.0,369.8 245.0,370.0 246.0,369.9 247.0,370.0 248.0,370.3 249.0,370.6 250.0,370.8 251.0,371.1 252.0,371.4 253.0,371.7 254.0,371.5 255.0,371.8 256.0,372.2 257.0,372.1 258.0,371.9 259.0,372.4 260.0,372.7 261.0,372.8 262.0,372.8 263.0,372.6 264.0,372.8 265.0,372.9 266.0,372.7 267.0,372.7 268.0,373.1 269.0,373.3 270.0,373.0 271.0,372.9 272.0,372.8 273.0,372.9 274.0,373.0 275.0,372.9 276.0,372.6 277.0,372.6 278.0,372.8 279.0,372.6 280.0,372.7 281.0,373.2 282.0,373.3 283.0,373.4 284.0,373.4 285.0,373.5 286.0,373.1 287.0,373.1 288.0,373.5 289.0,373.7 290.0,373.8 291.0,373.6 292.0,373.5 293.0,373.6 294.0,373.1 295.0,372.6 296.0,373.2 297.0,374.0 298.0,374.4 299.0,374.3 300.0,374.2 301.0,374.3 302.0,374.4 303.0,374.5 304.0,374.7 305.0,374.8 306.0,374.3 307.0,374.1 308.0,373.7 309.0,373.6 310.0,373.7 311.0,373.6 312.0,373.7 313.0,373.3 314.0,373.4 315.0,374.0 316.0,374.4 317.0,374.2 318.0,374.1 319.0,374.3 320.0,374.7 321.0,375.0 322.0,374.7 323.0,374.1 324.0,374.1 325.0,374.3 326.0,374.8 327.0,375.1 328.0,375.4 329.0,375.4 330.0,375.3 331.0,375.2 332.0,375.1 333.0,375.2 334.0,375.2 335.0,375.5 336.0,375.4 337.0,375.1 338.0,375.0 339.0,375.0 340.0,374.7 341.0,374.3 342.0,374.5 343.0,374.9 344.0,375.0 345.0,375.4 346.0,375.9 347.0,375.5 348.0,374.7 349.0,375.1 350.0,376.1 351.0,376.2 352.0,375.4 353.0,375.1 354.0,375.2 355.0,374.5 356.0,374.3 357.0,374.3 358.0,374.3 359.0,374.9 360.0,374.8 361.0,374.6 362.0,374.8 363.0,374.8 364.0,374.9 365.0,375.1 366.0,375.0 367.0,374.9 368.0,374.7 369.0,374.4 370.0,374.5 371.0,374.8 372.0,374.7 373.0,374.9 374.0,375.4 375.0,375.9 376.0,376.0 377.0,376.1 378.0,375.7 379.0,375.1 380.0,374.6 381.0,374.2 382.0,374.7 383.0,375.2 384.0,375.5 385.0,375.3 386.0,374.9 387.0,374.5 388.0,375.0 389.0,375.3 390.0,375.4 391.0,375.4 392.0,375.7 393.0,375.7 394.0,375.9 395.0,376.1 396.0,376.1 397.0,375.9 398.0,375.9 399.0,375.5 400.0,375.7 401.0,375.6 402.0,375.6 403.0,376.0 404.0,376.1 405.0,375.7 406.0,375.4 407.0,375.2 408.0,375.3 409.0,375.2 410.0,375.3 411.0,376.1 412.0,376.5 413.0,376.1 414.0,375.8 415.0,375.9 416.0,376.2 417.0,375.9 418.0,375.7 419.0,375.8 420.0,376.1 421.0,376.1 422.0,375.7 423.0,375.5 424.0,375.5 425.0,375.6 426.0,375.8 427.0,376.1 428.0,375.7 429.0,375.3 430.0,375.5 431.0,375.7 432.0,375.8 433.0,376.3 434.0,377.0 435.0,377.0 436.0,376.2 437.0,376.1 438.0,376.0 439.0,376.4 440.0,376.4 441.0,375.8 442.0,375.8 443.0,376.4 444.0,377.3 445.0,377.2 446.0,376.6 447.0,376.1 448.0,376.2 449.0,376.8 450.0,376.5 451.0,375.8 452.0,376.3 453.0,376.4 454.0,376.3 455.0,376.3 456.0,376.5 457.0,376.3 458.0,376.1 459.0,376.0 460.0,375.7 461.0,375.8 462.0,376.5 463.0,376.7 464.0,376.1 465.0,376.3 466.0,376.7 467.0,376.5 468.0,376.7 469.0,376.8 470.0,376.3 471.0,376.3 472.0,376.6 473.0,376.9 474.0,376.9 475.0,376.8 476.0,377.0 477.0,376.7 478.0,376.5 479.0,377.2 480.0,377.7 481.0,377.8 482.0,377.5 483.0,377.4 484.0,377.0 485.0,376.3 486.0,376.8 487.0,376.9 488.0,376.6 489.0,376.8 490.0,376.7 491.0,376.5 492.0,376.3 493.0,376.0 494.0,376.4 495.0,376.6 496.0,376.9 497.0,377.6 498.0,377.5 499.0,377.0 500.0,377.0 501.0,376.9 502.0,376.7 503.0,377.0 504.0,377.4 505.0,377.4 506.0,377.4 507.0,377.7 508.0,377.8 509.0,377.7 510.0,377.4 511.0,377.2 512.0,377.1 513.0,377.3 514.0,377.5 515.0,377.1 516.0,377.2 517.0,377.6 518.0,378.2 519.0,378.1 520.0,377.9 521.0,377.6 522.0,377.4 523.0,377.1 524.0,377.4 525.0,377.8 526.0,377.9 527.0,378.3 528.0,378.8 529.0,378.2 530.0,377.9 531.0,378.0 532.0,378.4 533.0,378.4 534.0,378.3 535.0,378.0 536.0,377.4 537.0,377.6 538.0,378.5 539.0,379.1 540.0,378.4" fill="none" stroke="#FF922C" stroke-width="2.2" stroke-linejoin="round"/>
<g font-size="17" text-anchor="end">
<text transform="translate(90.8,381.9) scale(0.96,1)">0.0</text>
<text transform="translate(90.8,315.9) scale(0.96,1)">0.2</text>
<text transform="translate(90.8,249.8) scale(0.96,1)">0.4</text>
<text transform="translate(90.8,183.8) scale(0.96,1)">0.6</text>
<text transform="translate(90.8,117.7) scale(0.96,1)">0.8</text>
<text transform="translate(90.8,51.7) scale(0.96,1)">1.0</text>
</g>
<g font-size="17" text-anchor="middle">
<text transform="translate(104.5,435.9) scale(0.96,1)">0.00</text>
<text transform="translate(213.6,435.9) scale(0.96,1)">0.05</text>
<text transform="translate(322.6,435.9) scale(0.96,1)">0.10</text>
<text transform="translate(431.7,435.9) scale(0.96,1)">0.15</text>
<text transform="translate(540.8,435.9) scale(0.96,1)">0.20</text>
</g>
<text x="350.3" y="467.5" font-size="20" text-anchor="middle">Time (ms)</text>
<text transform="translate(45,201.9) rotate(-90)" font-size="20.3" text-anchor="middle">Normalized intensity (a.u.)</text>
<text x="4" y="36.7" font-size="34">(a)</text>
<rect x="484.5" y="13.5" width="111" height="104" fill="#fff" stroke="#808080" stroke-width="1"/>
<line x1="486.3" y1="27.5" x2="534" y2="27.5" stroke="#00AEEA" stroke-width="2.2"/>
<text x="538.5" y="34.0" font-size="20">MIP 1</text>
<line x1="486.3" y1="52.8" x2="534" y2="52.8" stroke="#F2475C" stroke-width="2.2"/>
<text x="538.5" y="59.2" font-size="20">MIP 2</text>
<line x1="486.3" y1="78.0" x2="534" y2="78.0" stroke="#08AE55" stroke-width="2.2"/>
<text x="538.5" y="84.5" font-size="20">MIP 3</text>
<line x1="486.3" y1="103.2" x2="534" y2="103.2" stroke="#F7952E" stroke-width="2.2"/>
<text x="538.5" y="109.8" font-size="20">MIP 4</text>
<defs><clipPath id="c0"><rect x="109.77" y="534.58" width="49.5" height="348.92"/></clipPath><clipPath id="c2"><rect x="232.65" y="578.19" width="49.5" height="305.31"/></clipPath><clipPath id="c4"><rect x="355.53" y="598.02" width="49.5" height="285.48"/></clipPath><clipPath id="c6"><rect x="478.41" y="613.88" width="49.5" height="269.62"/></clipPath></defs>
<rect x="109.77" y="534.58" width="49.5" height="348.92" fill="#00ADE6"/>
<path clip-path="url(#c0)" d="M-258.93,532.58L93.99,885.50M-248.13,532.58L104.79,885.50M-237.33,532.58L115.59,885.50M-226.53,532.58L126.39,885.50M-215.73,532.58L137.19,885.50M-204.93,532.58L147.99,885.50M-194.13,532.58L158.79,885.50M-183.33,532.58L169.59,885.50M-172.53,532.58L180.39,885.50M-161.73,532.58L191.19,885.50M-150.93,532.58L201.99,885.50M-140.13,532.58L212.79,885.50M-129.33,532.58L223.59,885.50M-118.53,532.58L234.39,885.50M-107.73,532.58L245.19,885.50M-96.93,532.58L255.99,885.50M-86.13,532.58L266.79,885.50M-75.33,532.58L277.59,885.50M-64.53,532.58L288.39,885.50M-53.73,532.58L299.19,885.50M-42.93,532.58L309.99,885.50M-32.13,532.58L320.79,885.50M-21.33,532.58L331.59,885.50M-10.53,532.58L342.39,885.50M0.27,532.58L353.19,885.50M11.07,532.58L363.99,885.50M21.87,532.58L374.79,885.50M32.67,532.58L385.59,885.50M43.47,532.58L396.39,885.50M54.27,532.58L407.19,885.50M65.07,532.58L417.99,885.50M75.87,532.58L428.79,885.50M86.67,532.58L439.59,885.50M97.47,532.58L450.39,885.50M108.27,532.58L461.19,885.50M119.07,532.58L471.99,885.50M129.87,532.58L482.79,885.50M140.67,532.58L493.59,885.50M151.47,532.58L504.39,885.50M162.27,532.58L515.19,885.50M173.07,532.58L525.99,885.50M90.67,532.58L-262.25,885.50M101.47,532.58L-251.45,885.50M112.27,532.58L-240.65,885.50M123.07,532.58L-229.85,885.50M133.87,532.58L-219.05,885.50M144.67,532.58L-208.25,885.50M155.47,532.58L-197.45,885.50M166.27,532.58L-186.65,885.50M177.07,532.58L-175.85,885.50M187.87,532.58L-165.05,885.50M198.67,532.58L-154.25,885.50M209.47,532.58L-143.45,885.50M220.27,532.58L-132.65,885.50M231.07,532.58L-121.85,885.50M241.87,532.58L-111.05,885.50M252.67,532.58L-100.25,885.50M263.47,532.58L-89.45,885.50M274.27,532.58L-78.65,885.50M285.07,532.58L-67.85,885.50M295.87,532.58L-57.05,885.50M306.67,532.58L-46.25,885.50M317.47,532.58L-35.45,885.50M328.27,532.58L-24.65,885.50M339.07,532.58L-13.85,885.50M349.87,532.58L-3.05,885.50M360.67,532.58L7.75,885.50M371.47,532.58L18.55,885.50M382.27,532.58L29.35,885.50M393.07,532.58L40.15,885.50M403.87,532.58L50.95,885.50M414.67,532.58L61.75,885.50M425.47,532.58L72.55,885.50M436.27,532.58L83.35,885.50M447.07,532.58L94.15,885.50M457.87,532.58L104.95,885.50M468.67,532.58L115.75,885.50M479.47,532.58L126.55,885.50M490.27,532.58L137.35,885.50M501.07,532.58L148.15,885.50M511.87,532.58L158.95,885.50M522.67,532.58L169.75,885.50M533.47,532.58L180.55,885.50" stroke="#000" stroke-width="0.8" fill="none"/>
<rect x="109.77" y="534.58" width="49.5" height="348.92" fill="none" stroke="#000" stroke-width="1.1"/>
<path d="M130.2,530.6H138.8 M134.5,530.6V538.5 M130.2,538.5H138.8" stroke="#000" stroke-width="1.5" fill="none"/>
<rect x="171.21" y="550.44" width="49.5" height="333.06" fill="#00ADE6"/>
<rect x="171.21" y="550.44" width="49.5" height="333.06" fill="none" stroke="#000" stroke-width="1.1"/>
<path d="M191.7,546.5H200.3 M196.0,546.5V554.4 M191.7,554.4H200.3" stroke="#000" stroke-width="1.5" fill="none"/>
<rect x="232.65" y="578.19" width="49.5" height="305.31" fill="#FF4B5C"/>
<path clip-path="url(#c2)" d="M-92.85,576.19L216.46,885.50M-82.05,576.19L227.25,885.50M-71.25,576.19L238.06,885.50M-60.45,576.19L248.86,885.50M-49.65,576.19L259.65,885.50M-38.85,576.19L270.46,885.50M-28.05,576.19L281.25,885.50M-17.25,576.19L292.06,885.50M-6.45,576.19L302.86,885.50M4.35,576.19L313.65,885.50M15.15,576.19L324.46,885.50M25.95,576.19L335.25,885.50M36.75,576.19L346.06,885.50M47.55,576.19L356.86,885.50M58.35,576.19L367.65,885.50M69.15,576.19L378.46,885.50M79.95,576.19L389.25,885.50M90.75,576.19L400.06,885.50M101.55,576.19L410.86,885.50M112.35,576.19L421.66,885.50M123.15,576.19L432.46,885.50M133.95,576.19L443.26,885.50M144.75,576.19L454.06,885.50M155.55,576.19L464.86,885.50M166.35,576.19L475.66,885.50M177.15,576.19L486.46,885.50M187.95,576.19L497.26,885.50M198.75,576.19L508.06,885.50M209.55,576.19L518.86,885.50M220.35,576.19L529.65,885.50M231.15,576.19L540.46,885.50M241.95,576.19L551.26,885.50M252.75,576.19L562.06,885.50M263.55,576.19L572.86,885.50M274.35,576.19L583.65,885.50M285.15,576.19L594.46,885.50M295.95,576.19L605.26,885.50M213.55,576.19L-95.76,885.50M224.35,576.19L-84.96,885.50M235.15,576.19L-74.16,885.50M245.95,576.19L-63.36,885.50M256.75,576.19L-52.56,885.50M267.55,576.19L-41.76,885.50M278.35,576.19L-30.96,885.50M289.15,576.19L-20.16,885.50M299.95,576.19L-9.36,885.50M310.75,576.19L1.44,885.50M321.55,576.19L12.24,885.50M332.35,576.19L23.04,885.50M343.15,576.19L33.84,885.50M353.95,576.19L44.64,885.50M364.75,576.19L55.44,885.50M375.55,576.19L66.24,885.50M386.35,576.19L77.04,885.50M397.15,576.19L87.84,885.50M407.95,576.19L98.64,885.50M418.75,576.19L109.44,885.50M429.55,576.19L120.24,885.50M440.35,576.19L131.04,885.50M451.15,576.19L141.84,885.50M461.95,576.19L152.64,885.50M472.75,576.19L163.44,885.50M483.55,576.19L174.24,885.50M494.35,576.19L185.05,885.50M505.15,576.19L195.84,885.50M515.95,576.19L206.64,885.50M526.75,576.19L217.44,885.50M537.55,576.19L228.24,885.50M548.35,576.19L239.05,885.50M559.15,576.19L249.84,885.50M569.95,576.19L260.64,885.50M580.75,576.19L271.44,885.50M591.55,576.19L282.24,885.50M602.35,576.19L293.05,885.50M613.15,576.19L303.84,885.50" stroke="#000" stroke-width="0.8" fill="none"/>
<rect x="232.65" y="578.19" width="49.5" height="305.31" fill="none" stroke="#000" stroke-width="1.1"/>
<path d="M253.1,574.2H261.7 M257.4,574.2V582.2 M253.1,582.2H261.7" stroke="#000" stroke-width="1.5" fill="none"/>
<rect x="294.09" y="594.06" width="49.5" height="289.44" fill="#FF4B5C"/>
<rect x="294.09" y="594.06" width="49.5" height="289.44" fill="none" stroke="#000" stroke-width="1.1"/>
<path d="M314.5,590.1H323.1 M318.8,590.1V598.0 M314.5,598.0H323.1" stroke="#000" stroke-width="1.5" fill="none"/>
<rect x="355.53" y="598.02" width="49.5" height="285.48" fill="#00B34F"/>
<path clip-path="url(#c4)" d="M51.63,596.02L341.11,885.50M62.43,596.02L351.91,885.50M73.23,596.02L362.71,885.50M84.03,596.02L373.51,885.50M94.83,596.02L384.31,885.50M105.63,596.02L395.11,885.50M116.43,596.02L405.91,885.50M127.23,596.02L416.71,885.50M138.03,596.02L427.51,885.50M148.83,596.02L438.31,885.50M159.63,596.02L449.11,885.50M170.43,596.02L459.91,885.50M181.23,596.02L470.71,885.50M192.03,596.02L481.51,885.50M202.83,596.02L492.31,885.50M213.63,596.02L503.11,885.50M224.43,596.02L513.91,885.50M235.23,596.02L524.71,885.50M246.03,596.02L535.51,885.50M256.83,596.02L546.31,885.50M267.63,596.02L557.11,885.50M278.43,596.02L567.91,885.50M289.23,596.02L578.71,885.50M300.03,596.02L589.51,885.50M310.83,596.02L600.31,885.50M321.63,596.02L611.11,885.50M332.43,596.02L621.91,885.50M343.23,596.02L632.71,885.50M354.03,596.02L643.51,885.50M364.83,596.02L654.31,885.50M375.63,596.02L665.11,885.50M386.43,596.02L675.91,885.50M397.23,596.02L686.71,885.50M408.03,596.02L697.51,885.50M418.83,596.02L708.31,885.50M336.43,596.02L46.95,885.50M347.23,596.02L57.75,885.50M358.03,596.02L68.55,885.50M368.83,596.02L79.35,885.50M379.63,596.02L90.15,885.50M390.43,596.02L100.95,885.50M401.23,596.02L111.75,885.50M412.03,596.02L122.55,885.50M422.83,596.02L133.35,885.50M433.63,596.02L144.15,885.50M444.43,596.02L154.95,885.50M455.23,596.02L165.75,885.50M466.03,596.02L176.55,885.50M476.83,596.02L187.35,885.50M487.63,596.02L198.15,885.50M498.43,596.02L208.95,885.50M509.23,596.02L219.75,885.50M520.03,596.02L230.55,885.50M530.83,596.02L241.35,885.50M541.63,596.02L252.15,885.50M552.43,596.02L262.95,885.50M563.23,596.02L273.75,885.50M574.03,596.02L284.55,885.50M584.83,596.02L295.35,885.50M595.63,596.02L306.15,885.50M606.43,596.02L316.95,885.50M617.23,596.02L327.75,885.50M628.03,596.02L338.55,885.50M638.83,596.02L349.35,885.50M649.63,596.02L360.15,885.50M660.43,596.02L370.95,885.50M671.23,596.02L381.75,885.50M682.03,596.02L392.55,885.50M692.83,596.02L403.35,885.50M703.63,596.02L414.15,885.50M714.43,596.02L424.95,885.50M725.23,596.02L435.75,885.50" stroke="#000" stroke-width="0.8" fill="none"/>
<rect x="355.53" y="598.02" width="49.5" height="285.48" fill="none" stroke="#000" stroke-width="1.1"/>
<path d="M376.0,594.1H384.6 M380.3,594.1V602.0 M376.0,602.0H384.6" stroke="#000" stroke-width="1.5" fill="none"/>
<rect x="416.97" y="601.99" width="49.5" height="281.51" fill="#00B34F"/>
<rect x="416.97" y="601.99" width="49.5" height="281.51" fill="none" stroke="#000" stroke-width="1.1"/>
<path d="M437.4,598.0H446.0 M441.7,598.0V606.0 M437.4,606.0H446.0" stroke="#000" stroke-width="1.5" fill="none"/>
<rect x="478.41" y="613.88" width="49.5" height="269.62" fill="#FF922D"/>
<path clip-path="url(#c6)" d="M196.11,611.88L469.73,885.50M206.91,611.88L480.53,885.50M217.71,611.88L491.33,885.50M228.51,611.88L502.13,885.50M239.31,611.88L512.93,885.50M250.11,611.88L523.73,885.50M260.91,611.88L534.53,885.50M271.71,611.88L545.33,885.50M282.51,611.88L556.13,885.50M293.31,611.88L566.93,885.50M304.11,611.88L577.73,885.50M314.91,611.88L588.53,885.50M325.71,611.88L599.33,885.50M336.51,611.88L610.13,885.50M347.31,611.88L620.93,885.50M358.11,611.88L631.73,885.50M368.91,611.88L642.53,885.50M379.71,611.88L653.33,885.50M390.51,611.88L664.13,885.50M401.31,611.88L674.93,885.50M412.11,611.88L685.73,885.50M422.91,611.88L696.53,885.50M433.71,611.88L707.33,885.50M444.51,611.88L718.13,885.50M455.31,611.88L728.93,885.50M466.11,611.88L739.73,885.50M476.91,611.88L750.53,885.50M487.71,611.88L761.33,885.50M498.51,611.88L772.13,885.50M509.31,611.88L782.93,885.50M520.11,611.88L793.73,885.50M530.91,611.88L804.53,885.50M541.71,611.88L815.33,885.50M459.31,611.88L185.69,885.50M470.11,611.88L196.49,885.50M480.91,611.88L207.29,885.50M491.71,611.88L218.09,885.50M502.51,611.88L228.89,885.50M513.31,611.88L239.69,885.50M524.11,611.88L250.49,885.50M534.91,611.88L261.29,885.50M545.71,611.88L272.09,885.50M556.51,611.88L282.89,885.50M567.31,611.88L293.69,885.50M578.11,611.88L304.49,885.50M588.91,611.88L315.29,885.50M599.71,611.88L326.09,885.50M610.51,611.88L336.89,885.50M621.31,611.88L347.69,885.50M632.11,611.88L358.49,885.50M642.91,611.88L369.29,885.50M653.71,611.88L380.09,885.50M664.51,611.88L390.89,885.50M675.31,611.88L401.69,885.50M686.11,611.88L412.49,885.50M696.91,611.88L423.29,885.50M707.71,611.88L434.09,885.50M718.51,611.88L444.89,885.50M729.31,611.88L455.69,885.50M740.11,611.88L466.49,885.50M750.91,611.88L477.29,885.50M761.71,611.88L488.09,885.50M772.51,611.88L498.89,885.50M783.31,611.88L509.69,885.50M794.11,611.88L520.49,885.50M804.91,611.88L531.29,885.50M815.71,611.88L542.09,885.50M826.51,611.88L552.89,885.50" stroke="#000" stroke-width="0.8" fill="none"/>
<rect x="478.41" y="613.88" width="49.5" height="269.62" fill="none" stroke="#000" stroke-width="1.1"/>
<path d="M498.9,609.9H507.5 M503.2,609.9V617.8 M498.9,617.8H507.5" stroke="#000" stroke-width="1.5" fill="none"/>
<rect x="539.85" y="629.74" width="49.5" height="253.76" fill="#FF922D"/>
<rect x="539.85" y="629.74" width="49.5" height="253.76" fill="none" stroke="#000" stroke-width="1.1"/>
<path d="M560.3,625.8H568.9 M564.6,625.8V633.7 M560.3,633.7H568.9" stroke="#000" stroke-width="1.5" fill="none"/>
<g stroke="#000" stroke-width="1.6" fill="none">
<path d="M103.8,487 V883.5 H595.3"/>
<path d="M96.5,883.5H103.8 M96.5,804.2H103.8 M96.5,724.9H103.8 M96.5,645.6H103.8 M96.5,566.3H103.8 M96.5,487.0H103.8 M100.4,843.9H103.8 M100.4,764.5H103.8 M100.4,685.2H103.8 M100.4,606.0H103.8 M100.4,526.6H103.8 M134.5,883.5V891 M196.0,883.5V891 M257.4,883.5V891 M318.8,883.5V891 M380.3,883.5V891 M441.7,883.5V891 M503.2,883.5V891 M564.6,883.5V891"/>
</g>
<g font-size="17" text-anchor="end">
<text transform="translate(90.5,888.1) scale(0.96,1)">0.0</text>
<text transform="translate(90.5,808.8) scale(0.96,1)">0.2</text>
<text transform="translate(90.5,729.5) scale(0.96,1)">0.4</text>
<text transform="translate(90.5,650.2) scale(0.96,1)">0.6</text>
<text transform="translate(90.5,570.9) scale(0.96,1)">0.8</text>
<text transform="translate(90.5,491.6) scale(0.96,1)">1.0</text>
</g>
<g font-size="17" text-anchor="middle">
<text transform="translate(134.5,913.7) scale(0.965,1)">MIP 1</text>
<text transform="translate(196.0,913.7) scale(0.965,1)">REF 1</text>
<text transform="translate(257.4,913.7) scale(0.965,1)">MIP 2</text>
<text transform="translate(318.8,913.7) scale(0.965,1)">REF 2</text>
<text transform="translate(380.3,913.7) scale(0.965,1)">MIP 3</text>
<text transform="translate(441.7,913.7) scale(0.965,1)">REF 3</text>
<text transform="translate(503.2,913.7) scale(0.965,1)">MIP 4</text>
<text transform="translate(564.6,913.7) scale(0.965,1)">REF 4</text>
</g>
<text transform="translate(59.2,685.8) rotate(-90)" font-size="20" text-anchor="middle">Rigid Fraction</text>
<text x="4" y="504.7" font-size="34">(b)</text>
</svg>
</body></html>
